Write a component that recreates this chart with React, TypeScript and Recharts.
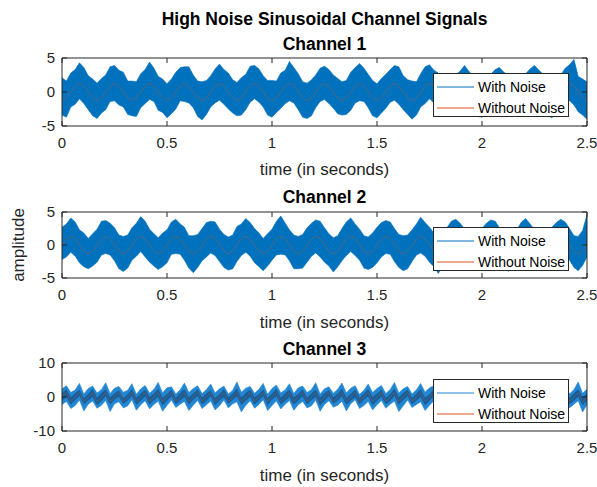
import React from 'react';
import { ComposedChart, Area, Line, XAxis, YAxis, Legend } from 'recharts';

const FONT = '"Liberation Sans", Arial, Helvetica, sans-serif';
const AX = '#262626';
const BLUE = '#0072BD';
const BLUE3 = '#2386d2';
const CORE3 = '#155f9c';
const ORANGE = '#D95319';

// time grid (seconds)
const timeGrid = [
  0, 0.021, 0.042, 0.063, 0.083, 0.104, 0.125, 0.146,
  0.167, 0.188, 0.208, 0.229, 0.25, 0.271, 0.292, 0.313,
  0.333, 0.354, 0.375, 0.396, 0.417, 0.438, 0.458, 0.479,
  0.5, 0.521, 0.542, 0.563, 0.583, 0.604, 0.625, 0.646,
  0.667, 0.688, 0.708, 0.729, 0.75, 0.771, 0.792, 0.813,
  0.833, 0.854, 0.875, 0.896, 0.917, 0.938, 0.958, 0.979,
  1.0, 1.021, 1.042, 1.063, 1.083, 1.104, 1.125, 1.146,
  1.167, 1.188, 1.208, 1.229, 1.25, 1.271, 1.292, 1.313,
  1.333, 1.354, 1.375, 1.396, 1.417, 1.438, 1.458, 1.479,
  1.5, 1.521, 1.542, 1.563, 1.583, 1.604, 1.625, 1.646,
  1.667, 1.688, 1.708, 1.729, 1.75, 1.771, 1.792, 1.813,
  1.833, 1.854, 1.875, 1.896, 1.917, 1.938, 1.958, 1.979,
  2.0, 2.021, 2.042, 2.063, 2.083, 2.104, 2.125, 2.146,
  2.167, 2.188, 2.208, 2.229, 2.25, 2.271, 2.292, 2.313,
  2.333, 2.354, 2.375, 2.396, 2.417, 2.438, 2.458, 2.479,
  2.5,
];

const timeTicks = [0, 0.5, 1, 1.5, 2, 2.5];
const timeTickLabels = ['0', '0.5', '1', '1.5', '2', '2.5'];
const ampTicks12 = [-5, 0, 5];
const ampTicks3 = [-10, 0, 10];
const seriesNames = ['With Noise', 'Without Noise'];
const channelTitles = ['Channel 1', 'Channel 2', 'Channel 3'];
const mainTitle = 'High Noise Sinusoidal Channel Signals';
const xLabel = 'time (in seconds)';
const yLabel = 'amplitude';

// Channel 1
const ch1Clean = [
  -1.2, -0.85, 0, 0.85, 1.2, 0.85, 0, -0.85,
  -1.2, -0.85, 0, 0.85, 1.2, 0.85, 0, -0.85,
  -1.2, -0.85, 0, 0.85, 1.2, 0.85, 0, -0.85,
  -1.2, -0.85, 0, 0.85, 1.2, 0.85, 0, -0.85,
  -1.2, -0.85, 0, 0.85, 1.2, 0.85, 0, -0.85,
  -1.2, -0.85, 0, 0.85, 1.2, 0.85, 0, -0.85,
  -1.2, -0.85, 0, 0.85, 1.2, 0.85, 0, -0.85,
  -1.2, -0.85, 0, 0.85, 1.2, 0.85, 0, -0.85,
  -1.2, -0.85, 0, 0.85, 1.2, 0.85, 0, -0.85,
  -1.2, -0.85, 0, 0.85, 1.2, 0.85, 0, -0.85,
  -1.2, -0.85, 0, 0.85, 1.2, 0.85, 0, -0.85,
  -1.2, -0.85, 0, 0.85, 1.2, 0.85, 0, -0.85,
  -1.2, -0.85, 0, 0.85, 1.2, 0.85, 0, -0.85,
  -1.2, -0.85, 0, 0.85, 1.2, 0.85, 0, -0.85,
  -1.2, -0.85, 0, 0.85, 1.2, 0.85, 0, -0.85,
  -1.2,
];
const ch1High = [
  2.1, 1.6, 2.8, 3.3, 4.3, 3.6, 2.4, 1.9,
  1.3, 2.0, 2.5, 3.7, 3.9, 3.2, 2.9, 1.6,
  1.6, 1.5, 2.7, 3.3, 4.4, 3.5, 2.3, 1.9,
  1.2, 1.9, 2.9, 3.6, 3.7, 3.7, 2.5, 1.6,
  1.5, 1.7, 2.4, 3.4, 4.1, 3.3, 2.8, 1.8,
  1.4, 2.1, 2.6, 3.8, 3.9, 3.4, 2.4, 1.7,
  1.7, 1.6, 2.8, 3.2, 4.5, 3.6, 2.7, 1.5,
  1.3, 1.8, 2.5, 3.5, 3.8, 3.3, 2.5, 2.0,
  1.5, 1.7, 2.9, 3.6, 4.2, 3.5, 2.6, 1.7,
  1.2, 2.0, 2.6, 3.3, 3.9, 3.7, 2.4, 1.8,
  1.6, 1.5, 2.7, 3.7, 4.0, 3.2, 2.8, 1.6,
  1.4, 1.8, 2.5, 3.1, 3.9, 3.0, 2.4, 1.7,
  1.5, 1.9, 2.6, 3.3, 3.6, 2.9, 2.5, 1.8,
  1.3, 1.7, 2.7, 3.4, 3.9, 3.2, 2.6, 1.6,
  1.6, 1.8, 2.5, 3.5, 4.0, 4.8, 2.3, 1.9,
  1.5,
];
const ch1Low = [
  -3.4, -3.7, -2.2, -1.8, -1.0, -1.7, -2.6, -3.5,
  -3.9, -3.1, -2.6, -1.4, -1.3, -1.9, -2.2, -3.3,
  -3.5, -3.6, -2.3, -1.7, -1.1, -1.4, -2.7, -3.0,
  -3.8, -3.2, -2.5, -1.3, -1.4, -1.6, -2.3, -3.6,
  -4.1, -3.3, -2.2, -1.6, -1.2, -1.8, -2.5, -3.1,
  -3.5, -3.4, -2.6, -1.5, -1.0, -1.5, -2.2, -3.4,
  -3.7, -3.0, -2.4, -1.7, -1.3, -1.6, -2.6, -3.7,
  -3.9, -3.5, -2.3, -1.4, -1.1, -1.7, -2.4, -3.2,
  -3.4, -3.3, -2.7, -1.6, -1.3, -1.4, -2.3, -3.5,
  -3.8, -3.1, -2.4, -1.5, -1.2, -1.8, -2.6, -3.3,
  -4.0, -3.4, -2.2, -1.7, -1.0, -1.6, -2.5, -3.4,
  -3.6, -3.3, -2.5, -1.4, -1.3, -1.5, -2.3, -3.6,
  -3.7, -3.2, -2.3, -1.6, -1.2, -1.7, -2.4, -3.3,
  -3.5, -3.4, -2.6, -1.5, -1.1, -1.6, -2.2, -3.5,
  -3.8, -3.1, -2.4, -1.7, -1.3, -1.9, -2.9, -3.4,
  -4.0,
];

// Channel 2
const ch2Clean = [
  0, 0.9, 1.3, 0.9, 0, -0.9, -1.3, -0.9,
  0, 0.9, 1.3, 0.9, 0, -0.9, -1.3, -0.9,
  0, 0.9, 1.3, 0.9, 0, -0.9, -1.3, -0.9,
  0, 0.9, 1.3, 0.9, 0, -0.9, -1.3, -0.9,
  0, 0.9, 1.3, 0.9, 0, -0.9, -1.3, -0.9,
  0, 0.9, 1.3, 0.9, 0, -0.9, -1.3, -0.9,
  0, 0.9, 1.3, 0.9, 0, -0.9, -1.3, -0.9,
  0, 0.9, 1.3, 0.9, 0, -0.9, -1.3, -0.9,
  0, 0.9, 1.3, 0.9, 0, -0.9, -1.3, -0.9,
  0, 0.9, 1.3, 0.9, 0, -0.9, -1.3, -0.9,
  0, 0.9, 1.3, 0.9, 0, -0.9, -1.3, -0.9,
  0, 0.9, 1.3, 0.9, 0, -0.9, -1.3, -0.9,
  0, 0.9, 1.3, 0.9, 0, -0.9, -1.3, -0.9,
  0, 0.9, 1.3, 0.9, 0, -0.9, -1.3, -0.9,
  0, 0.9, 1.3, 0.9, 0, -0.9, -1.3, -0.9,
  0,
];
const ch2High = [
  2.7, 3.2, 4.1, 3.5, 2.3, 1.8, 1.0, 1.7,
  2.4, 3.6, 3.7, 3.3, 2.6, 1.5, 1.3, 1.5,
  2.6, 3.3, 4.3, 3.6, 2.4, 1.7, 1.1, 1.8,
  2.3, 3.5, 3.9, 3.2, 2.7, 1.4, 1.4, 1.6,
  2.5, 3.4, 3.6, 3.5, 2.4, 1.6, 1.2, 1.5,
  2.8, 3.2, 4.0, 3.4, 2.5, 1.8, 1.0, 1.7,
  2.4, 3.6, 4.4, 3.3, 2.3, 1.5, 1.3, 1.6,
  2.6, 3.3, 3.8, 3.6, 2.6, 1.7, 1.1, 1.4,
  2.5, 3.5, 4.1, 3.2, 2.4, 1.4, 1.2, 1.8,
  2.7, 3.4, 3.7, 3.5, 2.5, 1.6, 1.4, 1.5,
  2.3, 3.2, 4.2, 3.4, 2.7, 1.8, 1.1, 1.7,
  2.6, 3.6, 3.9, 3.3, 2.4, 1.5, 1.3, 1.6,
  2.5, 3.3, 3.8, 3.6, 2.6, 1.7, 1.0, 1.5,
  2.4, 3.5, 4.0, 3.2, 2.3, 1.6, 1.2, 1.8,
  2.7, 3.4, 3.9, 3.5, 2.5, 1.4, 1.3, 2.2,
  4.6,
];
const ch2Low = [
  -2.2, -1.8, -1.1, -1.7, -2.7, -3.3, -3.6, -3.2,
  -2.6, -1.5, -1.3, -1.5, -2.4, -3.6, -4.0, -3.5,
  -2.3, -1.7, -1.0, -1.8, -2.6, -3.2, -3.7, -3.3,
  -2.7, -1.4, -1.3, -1.4, -2.3, -3.5, -4.2, -3.4,
  -2.4, -1.8, -1.2, -1.6, -2.5, -3.4, -3.8, -3.6,
  -2.5, -1.6, -1.1, -1.7, -2.7, -3.3, -3.9, -3.2,
  -2.3, -1.5, -1.4, -1.5, -2.4, -3.6, -3.6, -3.5,
  -2.6, -1.7, -1.2, -1.8, -2.6, -3.2, -4.1, -3.3,
  -2.4, -1.6, -1.0, -1.6, -2.3, -3.5, -3.7, -3.4,
  -2.7, -1.8, -1.3, -1.4, -2.5, -3.4, -3.9, -3.6,
  -2.5, -1.5, -1.2, -1.7, -2.6, -3.3, -4.3, -3.2,
  -2.3, -1.7, -1.1, -1.5, -2.4, -3.6, -3.8, -3.5,
  -2.6, -1.6, -1.4, -1.8, -2.7, -3.2, -4.0, -3.3,
  -2.4, -1.8, -1.2, -1.6, -2.5, -3.5, -3.7, -3.4,
  -2.5, -1.5, -1.3, -1.4, -2.3, -3.4, -3.9, -3.1,
  -1.8,
];

// Channel 3
const ch3Clean = [
  0, 1.2, -1.2, 0, 1.2, -1.2, 0, 1.2, -1.2, 0, 1.2, -1.2,
  0, 1.2, -1.2, 0, 1.2, -1.2, 0, 1.2, -1.2, 0, 1.2, -1.2,
  0, 1.2, -1.2, 0, 1.2, -1.2, 0, 1.2, -1.2, 0, 1.2, -1.2,
  0, 1.2, -1.2, 0, 1.2, -1.2, 0, 1.2, -1.2, 0, 1.2, -1.2,
  0, 1.2, -1.2, 0, 1.2, -1.2, 0, 1.2, -1.2, 0, 1.2, -1.2,
  0, 1.2, -1.2, 0, 1.2, -1.2, 0, 1.2, -1.2, 0, 1.2, -1.2,
  0, 1.2, -1.2, 0, 1.2, -1.2, 0, 1.2, -1.2, 0, 1.2, -1.2,
  0, 1.2, -1.2, 0, 1.2, -1.2, 0, 1.2, -1.2, 0, 1.2, -1.2,
  0, 1.2, -1.2, 0, 1.2, -1.2, 0, 1.2, -1.2, 0, 1.2, -1.2,
  0, 1.2, -1.2, 0, 1.2, -1.2, 0, 1.2, -1.2, 0, 1.2, -1.2,
  0,
];
const ch3High = [
  2.4, 3.3, 1.3, 2.1, 4.0, 0.9, 2.5, 3.2, 1.2, 2.2, 4.2, 1.0,
  2.6, 3.1, 1.4, 2.0, 3.9, 0.8, 2.4, 3.4, 1.1, 2.3, 4.3, 1.2,
  2.7, 3.0, 0.9, 2.1, 4.1, 1.3, 2.5, 3.3, 1.0, 2.2, 3.8, 1.2,
  2.4, 3.2, 0.9, 2.0, 4.4, 1.4, 2.6, 3.1, 1.1, 2.3, 4.0, 0.8,
  2.5, 3.5, 1.2, 2.1, 3.9, 1.0, 2.7, 3.2, 1.3, 2.2, 4.2, 0.9,
  2.4, 3.0, 1.1, 2.3, 4.1, 1.2, 2.6, 3.3, 0.8, 2.0, 3.8, 1.3,
  2.5, 3.4, 1.0, 2.2, 4.3, 1.2, 2.4, 3.1, 0.9, 2.1, 4.0, 1.4,
  2.7, 3.3, 1.1, 2.3, 3.9, 1.0, 2.5, 3.2, 1.2, 2.2, 4.2, 0.8,
  2.4, 3.4, 1.3, 2.0, 3.8, 1.1, 2.6, 3.1, 0.9, 2.3, 4.1, 1.2,
  2.5, 3.3, 1.0, 2.1, 4.0, 1.3, 2.4, 3.2, 0.9, 2.2, 4.4, 1.1,
  2.3,
];
const ch3Low = [
  -2.2, -1.3, -3.4, -2.5, -0.9, -4.1, -2.1, -1.2, -3.3, -2.4, -1.0, -4.3,
  -2.0, -1.4, -3.2, -2.6, -0.8, -3.9, -2.3, -1.1, -3.5, -2.2, -1.2, -4.2,
  -2.5, -0.9, -3.1, -2.1, -1.3, -4.0, -2.4, -1.0, -3.4, -2.3, -1.2, -3.8,
  -2.6, -0.9, -3.2, -2.0, -1.4, -4.4, -2.4, -1.1, -3.3, -2.2, -0.8, -4.0,
  -2.5, -1.2, -3.5, -2.1, -1.0, -3.9, -2.3, -1.3, -3.2, -2.6, -0.9, -4.2,
  -2.2, -1.1, -3.0, -2.4, -1.2, -4.1, -2.0, -0.8, -3.4, -2.5, -1.3, -3.8,
  -2.3, -1.0, -3.3, -2.1, -1.2, -4.3, -2.6, -0.9, -3.1, -2.2, -1.4, -4.0,
  -2.4, -1.1, -3.3, -2.3, -1.0, -3.9, -2.0, -1.2, -3.2, -2.5, -0.8, -4.2,
  -2.2, -1.3, -3.4, -2.4, -1.1, -3.8, -2.1, -0.9, -3.1, -2.6, -1.2, -4.1,
  -2.3, -1.0, -3.3, -2.2, -1.3, -4.0, -2.5, -0.9, -3.2, -2.1, -1.1, -4.4,
  -2.3,
];
const ch3CoreHigh = [
  1.0, 2.3, -0.1, 1.1, 2.1, -0.3, 0.9, 2.4, -0.2, 1.2, 2.2, -0.1,
  1.0, 2.0, -0.3, 0.8, 2.3, -0.2, 1.1, 2.2, 0.0, 1.0, 2.4, -0.2,
  0.9, 2.1, -0.3, 1.2, 2.3, -0.1, 1.0, 2.2, -0.2, 1.1, 2.0, -0.3,
  0.9, 2.3, -0.1, 1.0, 2.5, -0.2, 1.2, 2.1, 0.0, 0.8, 2.2, -0.3,
  1.0, 2.4, -0.2, 1.1, 2.1, -0.1, 0.9, 2.3, -0.3, 1.0, 2.2, -0.2,
  1.2, 2.0, -0.1, 1.0, 2.4, -0.2, 0.9, 2.2, -0.3, 1.1, 2.3, 0.0,
  1.0, 2.1, -0.2, 0.8, 2.5, -0.1, 1.2, 2.2, -0.3, 1.0, 2.3, -0.2,
  0.9, 2.1, -0.1, 1.1, 2.4, -0.2, 1.0, 2.2, -0.3, 1.2, 2.3, 0.0,
  0.9, 2.0, -0.2, 1.0, 2.4, -0.1, 1.1, 2.2, -0.3, 0.8, 2.3, -0.2,
  1.0, 2.1, -0.1, 1.2, 2.4, -0.2, 0.9, 2.2, -0.3, 1.1, 2.3, -0.1,
  1.0,
];
const ch3CoreLow = [
  -1.1, 0.1, -2.3, -0.9, 0.3, -2.1, -1.0, 0.0, -2.4, -1.2, 0.2, -2.2,
  -0.8, 0.1, -2.0, -1.0, 0.3, -2.3, -1.1, 0.2, -2.2, -0.9, 0.0, -2.5,
  -1.2, 0.2, -2.1, -1.0, 0.1, -2.3, -0.8, 0.3, -2.2, -1.1, 0.2, -2.4,
  -1.0, 0.0, -2.0, -0.9, 0.2, -2.3, -1.2, 0.1, -2.2, -1.0, 0.3, -2.4,
  -0.8, 0.2, -2.1, -1.1, 0.0, -2.3, -1.0, 0.2, -2.2, -0.9, 0.1, -2.5,
  -1.2, 0.3, -2.0, -1.0, 0.2, -2.3, -1.1, 0.0, -2.2, -0.8, 0.2, -2.4,
  -1.0, 0.1, -2.1, -1.2, 0.3, -2.3, -0.9, 0.2, -2.2, -1.0, 0.0, -2.4,
  -1.1, 0.2, -2.0, -0.8, 0.1, -2.3, -1.0, 0.3, -2.2, -1.2, 0.2, -2.5,
  -0.9, 0.0, -2.1, -1.1, 0.2, -2.3, -1.0, 0.1, -2.2, -0.8, 0.3, -2.4,
  -1.2, 0.2, -2.0, -1.0, 0.0, -2.3, -0.9, 0.2, -2.2, -1.1, 0.1, -2.4,
  -1.0,
];

type Row = { t: number; band: number[]; clean: number; core?: number[] };

const buildRows = (lo: number[], hi: number[], clean: number[], coreLo?: number[], coreHi?: number[]): Row[] =>
  timeGrid.map((t, i) => ({
    t,
    band: [lo[i], hi[i]],
    clean: clean[i],
    core: coreLo && coreHi ? [coreLo[i], coreHi[i]] : undefined,
  }));

const rows1 = buildRows(ch1Low, ch1High, ch1Clean);
const rows2 = buildRows(ch2Low, ch2High, ch2Clean);
const rows3 = buildRows(ch3Low, ch3High, ch3Clean, ch3CoreLow, ch3CoreHigh);

const tickStyle = { fill: AX, fontSize: 15, fontFamily: FONT };

const renderLegend = (props: any) => {
  const items = (props.payload || []).filter((p: any) => p.type !== 'none');
  return (
    <div style={{ position: 'relative', width: '100%', height: '100%' }}>
      {items.map((e: any, i: number) => (
        <div
          key={i}
          style={{
            position: 'absolute',
            left: 3,
            top: 3 + i * 21,
            height: 20,
            display: 'flex',
            alignItems: 'center',
            whiteSpace: 'nowrap',
          }}
        >
          <svg width={37} height={4} style={{ display: 'block' }}>
            <line x1={0} x2={37} y1={2} y2={2} stroke={e.color} strokeWidth={1} />
          </svg>
          <span style={{ marginLeft: 4, fontSize: 14, fontFamily: FONT, color: '#000', lineHeight: '20px' }}>
            {e.value}
          </span>
        </div>
      ))}
    </div>
  );
};

type PanelProps = {
  top: number;
  height: number;
  plotTop: number;
  plotBottom: number;
  rows: Row[];
  yDomain: [number, number];
  yTicks: number[];
  legendTop: number;
  bandColor: string;
  withCore?: boolean;
};

function Panel({ top, height, plotTop, plotBottom, rows, yDomain, yTicks, legendTop, bandColor, withCore }: PanelProps) {
  const mTop = plotTop - top - 1;
  const xAxisH = height - (plotBottom - top);
  return (
    <div style={{ position: 'absolute', left: 0, top }}>
      <ComposedChart width={597} height={height} data={rows} margin={{ top: mTop, right: 9, bottom: 0, left: 0 }}>
        <XAxis
          xAxisId="b"
          dataKey="t"
          type="number"
          domain={[0, 2.5]}
          ticks={timeTicks}
          interval={0}
          allowDataOverflow
          tickFormatter={(v: number) => timeTickLabels[timeTicks.indexOf(v)] ?? String(v)}
          height={xAxisH}
          tickSize={-5}
          tickMargin={16}
          stroke={AX}
          tick={tickStyle}
        />
        <XAxis
          xAxisId="t"
          orientation="top"
          dataKey="t"
          type="number"
          domain={[0, 2.5]}
          ticks={timeTicks}
          interval={0}
          allowDataOverflow
          tickFormatter={() => ''}
          height={1}
          tickSize={-5}
          stroke={AX}
        />
        <YAxis
          yAxisId="l"
          type="number"
          domain={yDomain}
          ticks={yTicks}
          interval={0}
          allowDataOverflow
          width={62}
          tickSize={-5}
          tickMargin={12}
          stroke={AX}
          tick={tickStyle}
        />
        <YAxis
          yAxisId="r"
          orientation="right"
          type="number"
          domain={yDomain}
          ticks={yTicks}
          interval={0}
          allowDataOverflow
          width={1}
          tickSize={-5}
          tickFormatter={() => ''}
          stroke={AX}
        />
        <Area
          xAxisId="b"
          yAxisId="l"
          name={seriesNames[0]}
          dataKey="band"
          type="linear"
          stroke={bandColor}
          strokeWidth={0.6}
          fill={bandColor}
          fillOpacity={1}
          dot={false}
          activeDot={false}
          isAnimationActive={false}
        />
        {withCore && (
          <Area
            xAxisId="b"
            yAxisId="l"
            name="core"
            dataKey="core"
            type="linear"
            stroke="none"
            fill={CORE3}
            fillOpacity={1}
            legendType="none"
            dot={false}
            activeDot={false}
            isAnimationActive={false}
          />
        )}
        <Line
          xAxisId="b"
          yAxisId="l"
          name={seriesNames[1]}
          dataKey="clean"
          type="monotone"
          stroke={ORANGE}
          strokeOpacity={0.55}
          strokeWidth={0.7}
          dot={false}
          activeDot={false}
          isAnimationActive={false}
        />
        <Legend
          layout="vertical"
          align="center"
          verticalAlign="middle"
          content={renderLegend}
          wrapperStyle={{
            position: 'absolute',
            left: 433,
            top: legendTop - top,
            width: 136,
            height: 44,
            background: '#fff',
            border: `1px solid ${AX}`,
            boxSizing: 'border-box',
            margin: 0,
            padding: 0,
          }}
        />
      </ComposedChart>
    </div>
  );
}

export default function App() {
  const cx = 324.5;
  return (
    <div style={{ position: 'absolute', left: 0, top: 0, width: 597, height: 487, background: '#fff', overflow: 'hidden' }}>
      <svg width={597} height={487} style={{ position: 'absolute', left: 0, top: 0 }}>
        <g fontFamily={FONT} textAnchor="middle">
          <text x={cx} y={25} fontSize={17.5} fontWeight="bold" fill="#000">{mainTitle}</text>
          <text x={cx} y={50} fontSize={17.5} fontWeight="bold" fill="#000">{channelTitles[0]}</text>
          <text x={cx} y={175} fontSize={17} fill={AX}>{xLabel}</text>
          <text x={cx} y={203} fontSize={17.5} fontWeight="bold" fill="#000">{channelTitles[1]}</text>
          <text x={cx} y={328} fontSize={17} fill={AX}>{xLabel}</text>
          <text x={cx} y={355} fontSize={17.5} fontWeight="bold" fill="#000">{channelTitles[2]}</text>
          <text x={cx} y={481} fontSize={17} fill={AX}>{xLabel}</text>
          <text x={24} y={245} fontSize={17} fill={AX} transform="rotate(-90 24 245)">{yLabel}</text>
        </g>
      </svg>
      <Panel top={0} height={160} plotTop={58} plotBottom={126} rows={rows1} yDomain={[-5, 5]} yTicks={ampTicks12} legendTop={73} bandColor={BLUE} />
      <Panel top={180} height={130} plotTop={212} plotBottom={278} rows={rows2} yDomain={[-5, 5]} yTicks={ampTicks12} legendTop={227} bandColor={BLUE} />
      <Panel top={330} height={130} plotTop={363} plotBottom={431} rows={rows3} yDomain={[-10, 10]} yTicks={ampTicks3} legendTop={379} bandColor={BLUE3} withCore />
    </div>
  );
}
